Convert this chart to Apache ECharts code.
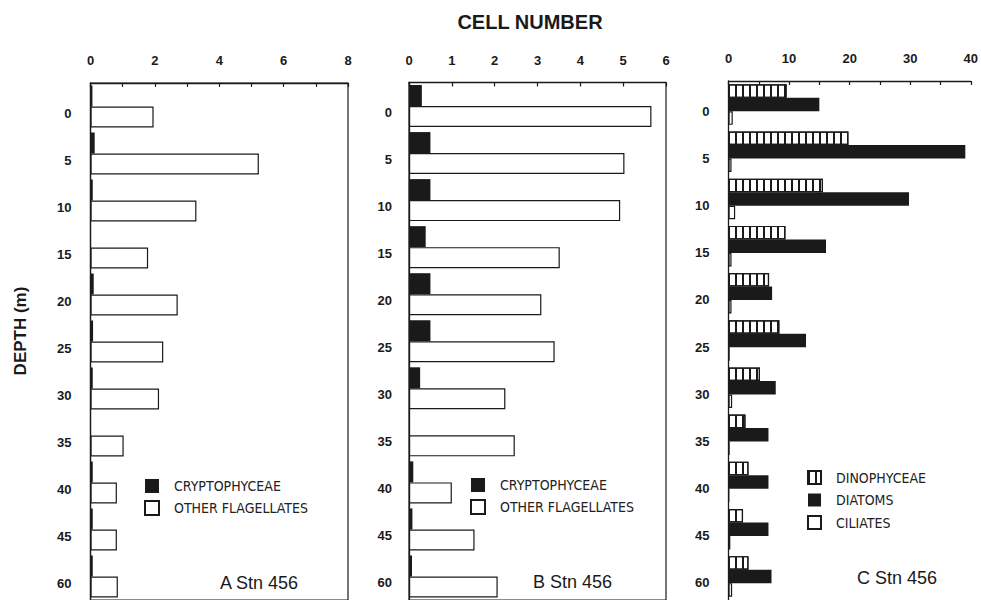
<!DOCTYPE html>
<html>
<head>
<meta charset="utf-8">
<script src="https://cdn.jsdelivr.net/npm/echarts@6/dist/echarts.min.js"></script>
<style>
html,body{margin:0;padding:0;background:#fff;}
#chart{width:981px;height:600px;}
</style>
</head>
<body>
<div id="chart"></div>
<script>
// ---- data ----
const depths = ['0','5','10','15','20','25','30','35','40','45','60'];
const cryptoA = [0.06, 0.13, 0.07, 0, 0.10, 0.08, 0.07, 0, 0.07, 0.07, 0.07];
const otherA  = [1.96, 5.23, 3.29, 1.79, 2.71, 2.26, 2.13, 1.03, 0.82, 0.82, 0.85];
const cryptoB = [0.30, 0.50, 0.50, 0.39, 0.50, 0.50, 0.26, 0, 0.10, 0.08, 0.07];
const otherB  = [5.66, 5.03, 4.93, 3.52, 3.09, 3.40, 2.25, 2.47, 1.00, 1.53, 2.07];
const dinoC    = [9.6, 19.8, 15.6, 9.4, 6.7, 8.4, 5.2, 2.8, 3.3, 2.4, 3.3];
const diatomC  = [15.0, 39.1, 29.8, 16.1, 7.2, 12.8, 7.8, 6.6, 6.6, 6.6, 7.1];
const ciliateC = [0.7, 0.5, 1.1, 0.5, 0.5, 0.2, 0.6, 0.2, 0.1, 0.3, 0.6];
const axisMaxA = 8, axisStepA = 2;
const axisMaxB = 6, axisStepB = 1;
const axisMaxC = 40, axisStepC = 10;

const INK = '#1a1a1a';
const labelFont = {color: INK, fontWeight: 'bold', fontSize: 13, fontFamily: 'Liberation Sans, Arial, sans-serif'};
const legendText = {color: '#222', fontSize: 14, fontFamily: 'Liberation Sans Narrow, DejaVu Sans Condensed, Liberation Sans, sans-serif', padding: [0,0,0,10]};

function xAx(grid, max, step, minor) {
  return {
    type: 'value', gridIndex: grid, position: 'top', min: 0, max: max, interval: step,
    axisLine: {show: true, lineStyle: {color: INK, width: 1.3}},
    axisTick: {show: true, inside: true, length: 4, lineStyle: {color: INK, width: 1.2}},
    minorTick: {show: minor, splitNumber: 2, length: 4, lineStyle: {color: INK, width: 1.2}},
    axisLabel: Object.assign({margin: 16}, labelFont),
    splitLine: {show: false}
  };
}
function yAx(grid, margin) {
  return {
    type: 'category', gridIndex: grid, data: depths, inverse: true,
    axisLine: {show: true, lineStyle: {color: INK, width: 1.3}},
    axisTick: {show: false},
    axisLabel: Object.assign({margin: margin, verticalAlign: 'top'}, labelFont),
    splitLine: {show: false}
  };
}
const blackStyle = {color: INK};
const whiteStyle = {color: '#fff', borderColor: INK, borderWidth: 1.2};
const dinoStyle = {color: '#fff', borderColor: INK, borderWidth: 1.2,
  decal: {symbol: 'rect', symbolSize: 1, dashArrayX: [1.5, 4.8], dashArrayY: [10, 0], rotation: 0, color: INK}};

const option = {
  backgroundColor: '#fff',
  animation: false,
  grid: [
    {left: 90.5, top: 83, width: 257.5, height: 519, show: true, borderColor: INK, borderWidth: 1.2, backgroundColor: 'transparent'},
    {left: 409, top: 82.5, width: 257, height: 519, show: true, borderColor: INK, borderWidth: 1.2, backgroundColor: 'transparent'},
    {left: 728.5, top: 81, width: 253.5, height: 520, show: false}
  ],
  xAxis: [xAx(0, axisMaxA, axisStepA, true), xAx(1, axisMaxB, axisStepB, false), xAx(2, axisMaxC, axisStepC, true)],
  yAxis: [yAx(0, 19), yAx(1, 17), yAx(2, 19)],
  legend: [
    {data: ['CRYPTOPHYCEAE', 'OTHER FLAGELLATES'], orient: 'vertical', left: 144, top: 479, padding: 0,
     itemWidth: 14, itemHeight: 14, itemGap: 7, icon: 'rect', textStyle: legendText, selectedMode: false},
    {data: ['CRYPTOPHYCEAE', 'OTHER FLAGELLATES'], orient: 'vertical', left: 470, top: 478, padding: 0,
     itemWidth: 14, itemHeight: 14, itemGap: 7, icon: 'rect', textStyle: legendText, selectedMode: false},
    {data: ['DINOPHYCEAE', 'DIATOMS', 'CILIATES'], orient: 'vertical', left: 807, top: 470, padding: 0,
     itemWidth: 13, itemHeight: 13, itemGap: 8, icon: 'rect', textStyle: legendText, selectedMode: false}
  ],
  series: [
    {name: 'CRYPTOPHYCEAE', type: 'bar', xAxisIndex: 0, yAxisIndex: 0, data: cryptoA, barWidth: 21, barGap: '0%', itemStyle: blackStyle},
    {name: 'OTHER FLAGELLATES', type: 'bar', xAxisIndex: 0, yAxisIndex: 0, data: otherA, barWidth: 21, barGap: '0%', itemStyle: whiteStyle},
    {name: 'CRYPTOPHYCEAE', type: 'bar', xAxisIndex: 1, yAxisIndex: 1, data: cryptoB, barWidth: 21, barGap: '0%', itemStyle: blackStyle},
    {name: 'OTHER FLAGELLATES', type: 'bar', xAxisIndex: 1, yAxisIndex: 1, data: otherB, barWidth: 21, barGap: '0%', itemStyle: whiteStyle},
    {name: 'DINOPHYCEAE', type: 'bar', xAxisIndex: 2, yAxisIndex: 2, data: dinoC, barWidth: 13.5, barGap: '0%', itemStyle: dinoStyle},
    {name: 'DIATOMS', type: 'bar', xAxisIndex: 2, yAxisIndex: 2, data: diatomC, barWidth: 13.5, barGap: '0%', itemStyle: blackStyle},
    {name: 'CILIATES', type: 'bar', xAxisIndex: 2, yAxisIndex: 2, data: ciliateC, barWidth: 13.5, barGap: '0%', itemStyle: whiteStyle}
  ],
  graphic: [
    {type: 'text', x: 530, y: 22, style: {text: 'CELL NUMBER', align: 'center', verticalAlign: 'middle', fill: INK, font: 'bold 20px "Liberation Sans", Arial, sans-serif'}},
    {type: 'text', x: 20, y: 331, rotation: Math.PI / 2, style: {text: 'DEPTH (m)', align: 'center', verticalAlign: 'middle', fill: INK, font: 'bold 17px "Liberation Sans", Arial, sans-serif'}},
    {type: 'text', x: 220, y: 583, style: {text: 'A Stn 456', align: 'left', verticalAlign: 'middle', fill: INK, font: '18px "Liberation Sans", Arial, sans-serif'}},
    {type: 'text', x: 533, y: 582, style: {text: 'B Stn 456', align: 'left', verticalAlign: 'middle', fill: INK, font: '18px "Liberation Sans", Arial, sans-serif'}},
    {type: 'text', x: 857, y: 578, style: {text: 'C Stn 456', align: 'left', verticalAlign: 'middle', fill: INK, font: '18px "Liberation Sans", Arial, sans-serif'}}
  ]
};
const chart = echarts.init(document.getElementById('chart'), null, {renderer: 'svg'});
chart.setOption(option);
</script>
</body>
</html>
